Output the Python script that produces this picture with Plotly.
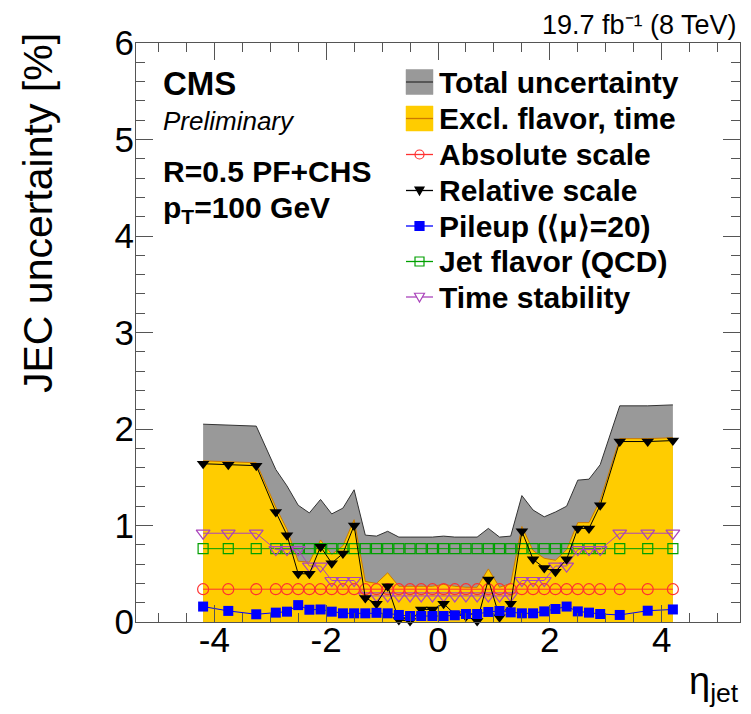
import plotly.graph_objects as go

# ---------------- data ----------------
eta = [-4.2, -3.75, -3.25, -2.9, -2.7, -2.5, -2.3, -2.1, -1.9, -1.7, -1.5, -1.3,
       -1.1, -0.9, -0.7, -0.5, -0.3, -0.1, 0.1, 0.3, 0.5, 0.7, 0.9, 1.1,
       1.3, 1.5, 1.7, 1.9, 2.1, 2.3, 2.5, 2.7, 2.9, 3.25, 3.75, 4.2]

total = [2.05, 2.04, 2.03, 1.58, 1.41, 1.21, 1.13, 1.27, 1.12, 1.18, 1.37, 0.90,
         0.89, 0.94, 0.88, 0.88, 0.88, 0.88, 0.89, 0.88, 0.88, 0.88, 0.97, 0.88,
         0.89, 1.31, 1.16, 1.09, 1.14, 1.20, 1.47, 1.48, 1.63, 2.24, 2.24, 2.25]

excl_flavor_time = [1.67, 1.66, 1.65, 1.19, 0.96, 0.63, 0.62, 0.85, 0.70, 0.79, 1.06, 0.42,
                    0.40, 0.51, 0.37, 0.37, 0.37, 0.37, 0.39, 0.37, 0.36, 0.36, 0.55, 0.36,
                    0.40, 0.99, 0.74, 0.66, 0.64, 0.75, 1.03, 1.03, 1.26, 1.90, 1.90, 1.91]

absolute = [0.34] * 36

relative = [1.64, 1.63, 1.62, 1.14, 0.90, 0.50, 0.50, 0.78, 0.61, 0.71, 1.00, 0.25,
            0.19, 0.37, 0.02, 0.01, 0.13, 0.13, 0.19, 0.08, 0.06, 0.01, 0.44, 0.05,
            0.19, 0.94, 0.65, 0.56, 0.52, 0.65, 0.97, 0.97, 1.21, 1.87, 1.87, 1.88]

pileup = [0.16, 0.115, 0.08, 0.097, 0.107, 0.175, 0.127, 0.13, 0.107, 0.09, 0.09, 0.09,
          0.095, 0.09, 0.073, 0.062, 0.062, 0.062, 0.062, 0.07, 0.083, 0.083, 0.104, 0.114,
          0.10, 0.09, 0.09, 0.11, 0.135, 0.16, 0.11, 0.097, 0.083, 0.073, 0.117, 0.13]

flavor = [0.76] * 36

time_stab = [0.92, 0.92, 0.92, 0.75, 0.75, 0.75, 0.58, 0.58, 0.43, 0.43, 0.43, 0.27,
             0.27, 0.27, 0.27, 0.27, 0.27, 0.27, 0.27, 0.27, 0.27, 0.27, 0.27, 0.27,
             0.27, 0.43, 0.43, 0.43, 0.58, 0.58, 0.75, 0.75, 0.75, 0.92, 0.92, 0.92]

x_ticks = [-4, -2, 0, 2, 4]
x_tick_text = ["-4", "-2", "0", "2", "4"]
y_ticks = [0, 1, 2, 3, 4, 5, 6]

legend_labels = ["Total uncertainty", "Excl. flavor, time", "Absolute scale",
                 "Relative scale", "Pileup (⟨μ⟩=20)", "Jet flavor (QCD)", "Time stability"]

FONT = "Liberation Sans, Arial, Helvetica, sans-serif"

C_GREY, C_GREY_LINE = "#999999", "#333333"
C_YEL, C_YEL_LINE = "#ffcc00", "#cc7a00"
C_RED, C_BLK, C_BLU, C_GRN, C_PUR = "#ff3030", "#000000", "#0000ff", "#00a000", "#aa44bb"

fig = go.Figure()

# filled bands
fig.add_trace(go.Scatter(
    x=eta, y=total, mode="lines", fill="tozeroy", fillcolor=C_GREY,
    line=dict(color=C_GREY_LINE, width=1), name=legend_labels[0]))
fig.add_trace(go.Scatter(
    x=eta, y=excl_flavor_time, mode="lines", fill="tozeroy", fillcolor=C_YEL,
    line=dict(color=C_YEL_LINE, width=1), name=legend_labels[1]))

# sources
fig.add_trace(go.Scatter(
    x=eta, y=flavor, mode="lines+markers", name=legend_labels[5],
    line=dict(color=C_GRN, width=1), cliponaxis=False,
    marker=dict(symbol="square-open", size=10, color=C_GRN, line=dict(width=1.2))))
fig.add_trace(go.Scatter(
    x=eta, y=time_stab, mode="lines+markers", name=legend_labels[6],
    line=dict(color=C_PUR, width=1), cliponaxis=False,
    marker=dict(symbol="triangle-down-open", size=12, color=C_PUR, line=dict(width=1.2))))
fig.add_trace(go.Scatter(
    x=eta, y=absolute, mode="lines+markers", name=legend_labels[2],
    line=dict(color=C_RED, width=1), cliponaxis=False,
    marker=dict(symbol="circle-open", size=11, color=C_RED, line=dict(width=1.2))))
fig.add_trace(go.Scatter(
    x=eta, y=relative, mode="lines+markers", name=legend_labels[3],
    line=dict(color=C_BLK, width=1), cliponaxis=False,
    marker=dict(symbol="triangle-down", size=11, color=C_BLK)))
fig.add_trace(go.Scatter(
    x=eta, y=pileup, mode="lines+markers", name=legend_labels[4],
    line=dict(color=C_BLU, width=1), cliponaxis=False,
    marker=dict(symbol="square", size=10, color=C_BLU)))

# window is 751x714; the page body has an 8px margin, so the figure is 743x706
OFF = 8
W, H = 751 - OFF, 714 - OFF
# plot area in window pixels
PX0, PX1, PY0, PY1 = 136, 740, 43, 622
L, R, T, B = PX0 - OFF, W - (PX1 - OFF), PY0 - OFF, H - (PY1 - OFF)
pw, ph = PX1 - PX0, PY1 - PY0


def px(x):
    return (x - PX0) / pw


def py(y):
    return (PY1 - y) / ph


axis_common = dict(
    showgrid=False, zeroline=False, showline=True, linecolor="#555555", linewidth=1,
    mirror="ticks", ticks="inside", tickcolor="#555555", tickwidth=1, ticklen=17,
    tickfont=dict(family=FONT, size=35, color="black"),
)

fig.update_layout(
    width=W, height=H,
    margin=dict(l=L, r=R, t=T, b=B, pad=0),
    paper_bgcolor="white", plot_bgcolor="white",
    xaxis=dict(range=[-5.4, 5.4], tickvals=x_ticks, ticktext=x_tick_text,
               minor=dict(dtick=0.5, tick0=0, ticks="inside", ticklen=9,
                          tickcolor="#555555", tickwidth=1, showgrid=False),
               ticklabelstandoff=-13, **axis_common),
    yaxis=dict(range=[0, 6], tickvals=y_ticks,
               minor=dict(dtick=0.2, tick0=0, ticks="inside", ticklen=9,
                          tickcolor="#555555", tickwidth=1, showgrid=False),
               ticklabelstandoff=-6, **axis_common),
    showlegend=False,
)

# ---------------- hand-built legend (layout shapes + text) ----------------
LX0, LX1 = 406, 433           # symbol extent (window pixels)
LXC = (LX0 + LX1) / 2
TX = 437                      # text start
rows = [82, 118.5, 154.5, 190.5, 226, 261.5, 297]

shapes = []


def hline(y, color):
    shapes.append(dict(type="line", xref="paper", yref="paper",
                       x0=px(LX0), x1=px(LX1), y0=py(y), y1=py(y),
                       line=dict(color=color, width=1.3)))


def box(y, fill, edge):
    shapes.append(dict(type="rect", xref="paper", yref="paper",
                       x0=px(LX0), x1=px(LX1), y0=py(y + 12.5), y1=py(y - 12.5),
                       fillcolor=fill, line=dict(color=fill, width=0.5)))
    hline(y, edge)


def tri_down(y, s, color, filled):
    path = "M {:.5f},{:.5f} L {:.5f},{:.5f} L {:.5f},{:.5f} Z".format(
        px(LXC - s), py(y - s * 0.75), px(LXC + s), py(y - s * 0.75), px(LXC), py(y + s))
    shapes.append(dict(type="path", xref="paper", yref="paper", path=path,
                       fillcolor=color if filled else "white",
                       line=dict(color=color, width=1.2)))


def square(y, s, color, filled):
    shapes.append(dict(type="rect", xref="paper", yref="paper",
                       x0=px(LXC - s), x1=px(LXC + s), y0=py(y + s), y1=py(y - s),
                       fillcolor=color if filled else "rgba(0,0,0,0)",
                       line=dict(color=color, width=1.2)))


def circle(y, s, color):
    shapes.append(dict(type="circle", xref="paper", yref="paper",
                       x0=px(LXC - s), x1=px(LXC + s), y0=py(y + s), y1=py(y - s),
                       fillcolor="rgba(0,0,0,0)", line=dict(color=color, width=1.2)))


box(rows[0], C_GREY, C_GREY_LINE)
box(rows[1], C_YEL, C_YEL_LINE)
hline(rows[2], C_RED); circle(rows[2], 4.5, C_RED)
hline(rows[3], C_BLK); tri_down(rows[3], 4.5, C_BLK, True)
hline(rows[4], C_BLU); square(rows[4], 4.5, C_BLU, True)
hline(rows[5], C_GRN); square(rows[5], 4.5, C_GRN, False)
hline(rows[6], C_PUR); tri_down(rows[6], 5, C_PUR, False)

fig.update_layout(shapes=shapes)

for lab, yr in zip(legend_labels, rows):
    fig.add_annotation(text="<b>" + lab + "</b>", x=px(TX), y=py(yr), xref="paper", yref="paper",
                       xanchor="left", yanchor="middle", showarrow=False,
                       font=dict(family=FONT, size=30, color="black"))

ann = [
    dict(text="<b>CMS</b>", x=px(161), y=py(84), size=33, xanchor="left", yanchor="middle"),
    dict(text="<i>Preliminary</i>", x=px(161), y=py(121), size=26, xanchor="left", yanchor="middle"),
    dict(text="<b>R=0.5 PF+CHS</b>", x=px(161), y=py(171), size=30, xanchor="left", yanchor="middle"),
    dict(text="<b>p<sub>T</sub>=100 GeV</b>", x=px(161), y=py(210), size=30, xanchor="left", yanchor="middle"),
    dict(text="19.7 fb⁻¹ (8 TeV)", x=px(739), y=py(OFF), size=27, xanchor="right", yanchor="top"),
    dict(text="η<sub>jet</sub>", x=px(741), y=py(684), size=38, xanchor="right", yanchor="middle"),
]
for a in ann:
    fig.add_annotation(text=a["text"], x=a["x"], y=a["y"], xref="paper", yref="paper",
                       xanchor=a["xanchor"], yanchor=a["yanchor"], showarrow=False,
                       font=dict(family=FONT, size=a["size"], color="black"))

fig.add_annotation(text="JEC uncertainty [%]", x=px(38), y=py(213), xref="paper", yref="paper",
                   xanchor="center", yanchor="middle", textangle=-90, showarrow=False,
                   font=dict(family=FONT, size=41, color="black"))

fig.write_html("out.html")
